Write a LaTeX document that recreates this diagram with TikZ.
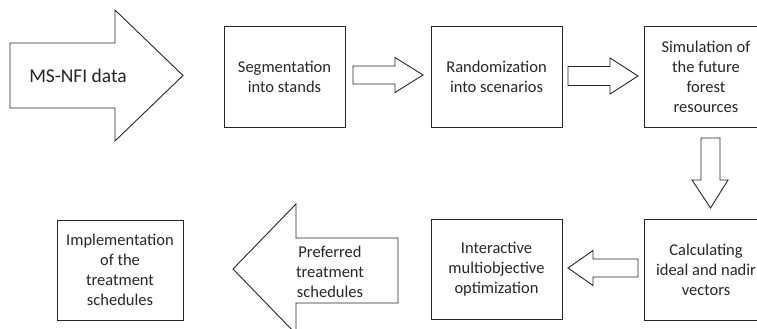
\documentclass[tikz,border=0pt]{standalone}
\usepackage{fontspec}
\setmainfont{Carlito}
\begin{document}
\begin{tikzpicture}[x=1pt,y=-1pt,
  box/.style={draw=black!85, line width=0.9pt, align=center, inner sep=0pt,
    font=\fontsize{16.5}{20}\selectfont, text=black!85},
  barrow/.style={draw=black!85, line width=0.9pt, fill=white, line join=miter},
  lbl/.style={align=center, inner sep=0pt, font=\fontsize{16.5}{20}\selectfont, text=black!85}]
\useasboundingbox (0,0) rectangle (757,329);
\clip (0,0) rectangle (757,329);
% boxes
\node[box, minimum width=121pt, minimum height=101pt] (seg) at (284.5,76.5) {Segmentation\\into stands};
\node[box, minimum width=131pt, minimum height=101pt] (rand) at (496.5,76.5) {Randomization\\into scenarios};
\node[box, minimum width=124pt, minimum height=101pt] (sim) at (706,76.5) {Simulation of\\the future\\forest\\resources};
\node[box, minimum width=124pt, minimum height=101pt] (calc) at (706,269.5) {Calculating\\ideal and nadir\\vectors};
\node[box, minimum width=131pt, minimum height=100pt] (int) at (496.5,269) {Interactive\\multiobjective\\optimization};
\node[box, minimum width=126pt, minimum height=100pt] (impl) at (120,270) {Implementation\\of the\\treatment\\schedules};
% big input arrow
\draw[barrow] (10,43) -- (115,43) -- (115,10) -- (183,75.5) -- (115,141) -- (115,108) -- (10,108) -- cycle;
\node[lbl, font=\fontsize{19.5}{23}\selectfont] (msnfi) at (78,76) {MS-NFI data};
% seg -> rand
\draw[barrow] (353,66) -- (395,66) -- (395,57.5) -- (423,75) -- (395,92.5) -- (395,84) -- (353,84) -- cycle;
% rand -> sim
\draw[barrow] (568,66.5) -- (610,66.5) -- (610,58) -- (638,76) -- (610,94) -- (610,85.5) -- (568,85.5) -- cycle;
% sim -> calc (down)
\draw[barrow] (701,138) -- (720,138) -- (720,180) -- (728,180) -- (710.5,208) -- (692,180) -- (701,180) -- cycle;
% calc -> int (left)
\draw[barrow] (638,259) -- (593,259) -- (593,250.5) -- (568,268) -- (593,285.5) -- (593,277) -- (638,277) -- cycle;
% big output arrow
\draw[barrow] (398,238) -- (296,238) -- (296,204) -- (233,269) -- (296,334) -- (296,303) -- (398,303) -- cycle;
\node[lbl] (pref) at (330,272) {Preferred\\treatment\\schedules};
\end{tikzpicture}
\end{document}
